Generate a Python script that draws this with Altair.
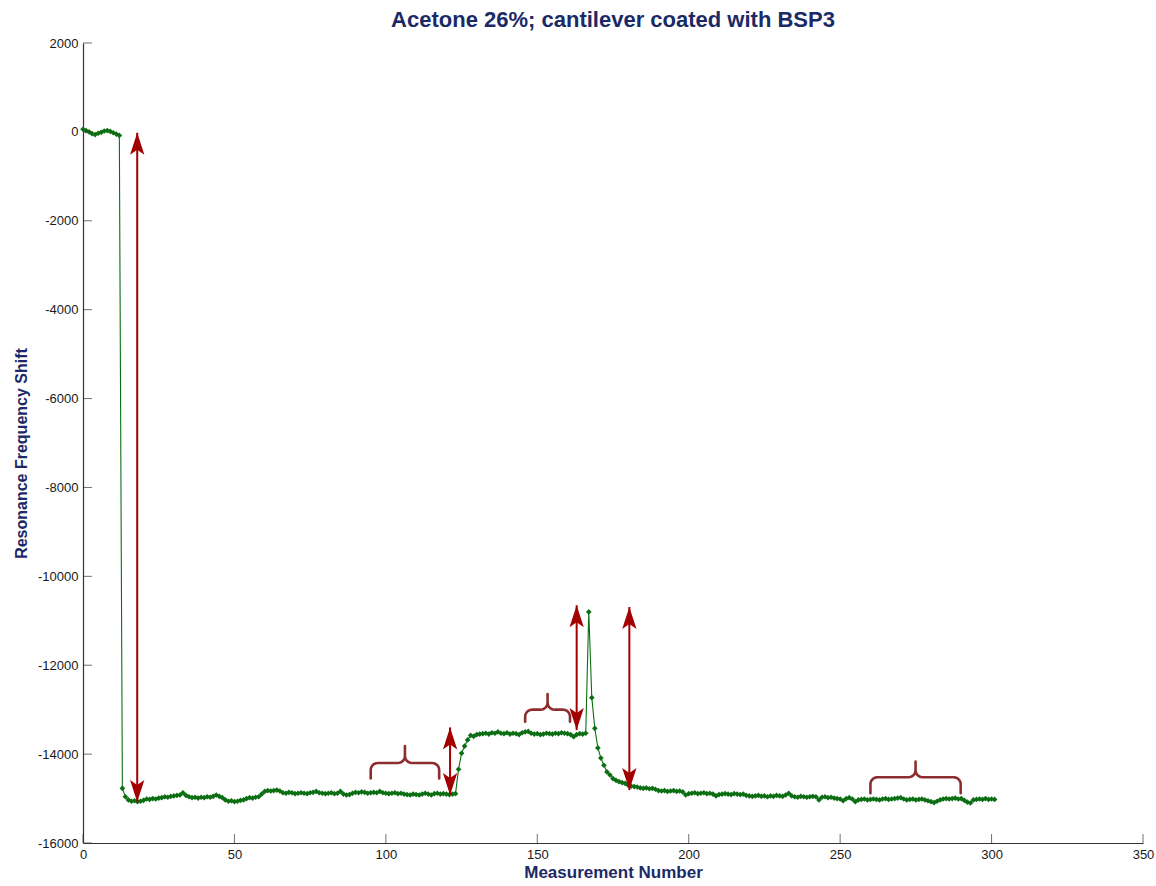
import altair as alt
import pandas as pd
import numpy as np

# ---------------- data ----------------
seg_start = [60, 30, 0, -40, -60, -30, -10, 20, 30, 10, -20, -50, -80]
seg_drop = [-14770, -14960, -15030, -15060, -15050, -15070, -15060, -15040]
seg_base1 = [-15010, -15020, -15000, -15010, -14990,
             -14980, -14960, -14970, -14950, -14940, -14930, -14920,
             -14870, -14930, -14960, -14980, -14970, -14990, -14970, -14980, -14960, -14970,
             -14950, -14920, -14950, -14980, -15030, -15060, -15050, -15070, -15060, -15040, -15030,
             -15000, -14980, -14990, -14970, -14960,
             -14900, -14840, -14820, -14830, -14820, -14810, -14830,
             -14870, -14880, -14860, -14870, -14890, -14880, -14870, -14880, -14890, -14870, -14860,
             -14840, -14870, -14880, -14890, -14880, -14870, -14890, -14880,
             -14840, -14900, -14920, -14910,
             -14880, -14860, -14870, -14850, -14860, -14880, -14870, -14860, -14870,
             -14840, -14870, -14880, -14890, -14880, -14870, -14890, -14880, -14900,
             -14910, -14920, -14900, -14910, -14920, -14900, -14880,
             -14900, -14920, -14890, -14880, -14900, -14890, -14900, -14910, -14900, -14890]
seg_rise = [-14340, -13980, -13820, -13680, -13580, -13600, -13560]
seg_plateau = [-13550, -13540, -13530, -13550, -13520, -13530, -13500, -13530, -13540, -13520,
               -13550, -13530, -13540, -13560, -13520, -13500, -13490, -13530, -13550, -13540,
               -13560, -13550, -13530, -13540, -13550, -13530, -13540, -13520, -13530, -13540,
               -13560, -13610, -13560, -13540, -13550, -13530]
seg_spike = [-10800, -12730, -13420, -13860, -14090, -14250, -14400, -14470, -14550, -14590,
             -14620, -14640, -14660, -14700]
seg_base2 = [-14720, -14730, -14740, -14760, -14770, -14760, -14780, -14770, -14790,
             -14820, -14830, -14820, -14840, -14830, -14820, -14840, -14830, -14850,
             -14920, -14890, -14880, -14870, -14890, -14880, -14870, -14890, -14880,
             -14900, -14940, -14910, -14900, -14890, -14900, -14910, -14890, -14900, -14910, -14900,
             -14930, -14940, -14950, -14940, -14930, -14950, -14940, -14960, -14940, -14950, -14930, -14940, -14950,
             -14920, -14880,
             -14940, -14960, -14970, -14950, -14960, -14970, -14960, -14950, -14960,
             -15030, -14970, -14960, -14980, -14970, -14990,
             -15000, -15010,
             -15050, -15000, -14980, -15010, -15070, -15030,
             -15020, -15010, -15030, -15020, -15010, -15020, -15030, -15010, -15000, -15020, -15010,
             -15000, -14990, -14980,
             -15010, -15030, -15020, -15010, -15030, -15020, -15010, -15030,
             -15050, -15070, -15090, -15060,
             -15030, -15010, -15000, -15010, -15000, -14990, -15010, -15000,
             -15040, -15080, -15100,
             -15030, -15020, -15010, -15020, -15000, -15020, -15010, -15020]

shift_values = seg_start + seg_drop + seg_base1 + seg_rise + seg_plateau + seg_spike + seg_base2
measurement = list(range(len(shift_values)))

x_ticks = [0, 50, 100, 150, 200, 250, 300, 350]
y_ticks = [-16000, -14000, -12000, -10000, -8000, -6000, -4000, -2000, 0, 2000]

# arrows (double headed)
arrow_x = [17.9, 121.2, 163.0, 180.4]
arrow_top = [-20, -13400, -10650, -10690]
arrow_bottom = [-15080, -14920, -13460, -14810]

# braces: left, right, centre, leg bottom, bar level, peak
brace_left = [95.0, 146.0, 260.0]
brace_right = [117.6, 160.8, 289.8]
brace_center = [106.3, 153.4, 274.9]
brace_bottom = [-14550, -13270, -14880]
brace_bar = [-14200, -13000, -14520]
brace_peak = [-13820, -12650, -14170]

# ---------------- styling ----------------
W, H = 1060, 800
XDOM, YDOM = [0, 350], [-16000, 2000]
GREEN = "#0c6e12"
RED = "#a30000"
BROWN = "#8c2e2e"
NAVY = "#1b2a66"
FONT = "Liberation Sans"

PX_X = W / (XDOM[1] - XDOM[0])
PX_Y = H / (YDOM[1] - YDOM[0])


def arc(cx, cy, rx, ry, t0, t1, n=8):
    t = np.radians(np.linspace(t0, t1, n))
    return list(zip(cx + rx * np.cos(t), cy + ry * np.sin(t)))


rows = []
for b in range(len(brace_left)):
    xl, xr, xc = brace_left[b], brace_right[b], brace_center[b]
    yb, yh, yp = brace_bottom[b], brace_bar[b], brace_peak[b]
    r = 7.0
    rx, ry = r / PX_X, r / PX_Y
    pts = [(xl, yb)]
    pts += arc(xl + rx, yh - ry, rx, ry, 180, 90)
    pts += arc(xc - rx, yh + ry, rx, ry, 270, 360)
    pts += [(xc, yp)]
    pts += arc(xc + rx, yh + ry, rx, ry, 180, 270)
    pts += arc(xr - rx, yh - ry, rx, ry, 90, 0)
    pts += [(xr, yb)]
    for i, (px, py) in enumerate(pts):
        rows.append({"b": b, "i": i, "x": float(px), "y": float(py)})
brace_df = pd.DataFrame(rows)

df = pd.DataFrame({"x": measurement, "y": shift_values})
arrows = pd.DataFrame({"x": arrow_x, "top": arrow_top, "bottom": arrow_bottom})
yt_df = pd.DataFrame({"y": y_ticks})
xt_df = pd.DataFrame({"x": x_ticks})

xscale = alt.Scale(domain=XDOM, nice=False, zero=False)
yscale = alt.Scale(domain=YDOM, nice=False, zero=False)

common_axis = dict(ticks=False, grid=False, domainColor="#333333", domainWidth=1.2,
                   labelFont=FONT, labelFontSize=13, labelColor="#1a1a1a",
                   labelPadding=5, labelExpr="'' + datum.value",
                   titleFont=FONT, titleFontWeight="bold", titleColor=NAVY)

X = alt.X("x:Q", scale=xscale,
          axis=alt.Axis(values=x_ticks, title="Measurement Number", titleFontSize=17,
                        titlePadding=3, labelFlush=False, **common_axis))
Y = alt.Y("y:Q", scale=yscale,
          axis=alt.Axis(values=y_ticks, title="Resonance Frequency Shift", titleFontSize=16,
                        titlePadding=8, titleY=410, **common_axis))

line = alt.Chart(df).mark_line(color=GREEN, strokeWidth=1.1).encode(x=X, y=Y)
pts = alt.Chart(df).mark_point(shape="diamond", filled=True, size=32, color=GREEN,
                               opacity=1).encode(x="x:Q", y="y:Q")

shaft = alt.Chart(arrows).mark_rule(color=RED, strokeWidth=2).encode(
    x="x:Q", y="top:Q", y2="bottom:Q")
UP = "M0,0 L0.65,2 L0,1.55 L-0.65,2 Z"
DOWN = "M0,0 L0.65,-2 L0,-1.55 L-0.65,-2 Z"
head_up = alt.Chart(arrows).mark_point(shape=UP, filled=True, size=484, color=RED,
                                       opacity=1, strokeWidth=0).encode(x="x:Q", y="top:Q")
head_dn = alt.Chart(arrows).mark_point(shape=DOWN, filled=True, size=484, color=RED,
                                       opacity=1, strokeWidth=0).encode(x="x:Q", y="bottom:Q")

braces = alt.Chart(brace_df).mark_line(color=BROWN, strokeWidth=2.6, strokeCap="round",
                                       strokeJoin="round").encode(
    x="x:Q", y="y:Q", detail="b:N", order="i:Q")

ytick_marks = alt.Chart(yt_df).mark_tick(orient="horizontal", size=9, thickness=1,
                                         color="#333333", xOffset=4.5).encode(
    x=alt.datum(0), y="y:Q")
xtick_marks = alt.Chart(xt_df).mark_tick(orient="vertical", size=9, thickness=1,
                                         color="#333333", yOffset=-4.5).encode(
    x="x:Q", y=alt.datum(-16000))

chart = alt.layer(line, pts, braces, shaft, head_up, head_dn, ytick_marks, xtick_marks).properties(
    width=W, height=H,
    title=alt.TitleParams("Acetone 26%; cantilever coated with BSP3", font=FONT, fontSize=22,
                          fontWeight="bold", color=NAVY, anchor="middle", frame="group",
                          baseline="alphabetic", offset=-12),
    padding={"left": 83, "top": 43, "right": 13, "bottom": 43},
    autosize=alt.AutoSizeParams(type="none"),
).configure(background="white").configure_view(stroke=None)

chart.save("out.html", embed_options={"renderer": "svg", "actions": False})
